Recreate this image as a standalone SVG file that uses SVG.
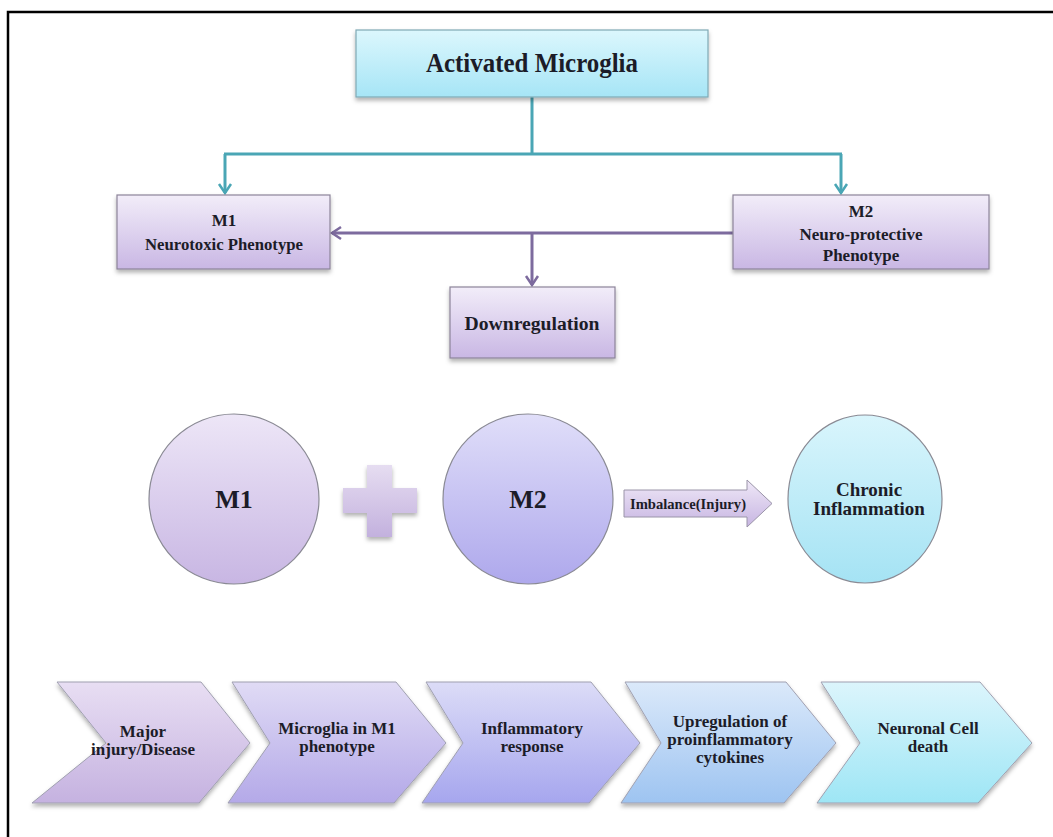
<svg xmlns="http://www.w3.org/2000/svg" width="1053" height="837" viewBox="0 0 1053 837">
<style>
text{font-family:"Liberation Serif","Times New Roman",serif;font-weight:bold;fill:#1c1c28;text-anchor:middle}
.box{stroke:#8c8499;stroke-width:1.2}
.tbox{stroke:#7fa9b5;stroke-width:1.2}
.circ{stroke:#8a8a94;stroke-width:1.2}
.chev{stroke:#a0a0b0;stroke-width:1}
.teal{fill:none;stroke:#4aa6b5;stroke-width:3}
.purp{fill:none;stroke:#7d6b9e;stroke-width:3}
</style>
<defs>
<linearGradient id="gCyan" x1="0" y1="0" x2="0" y2="1"><stop offset="0" stop-color="#dcf7fd"/><stop offset="1" stop-color="#a6e5f6"/></linearGradient>
<linearGradient id="gLav" x1="0" y1="0" x2="0" y2="1"><stop offset="0" stop-color="#f2edf9"/><stop offset="1" stop-color="#c9b7e4"/></linearGradient>
<linearGradient id="gC1" x1="0" y1="0" x2="0" y2="1"><stop offset="0" stop-color="#ede6f7"/><stop offset="1" stop-color="#c8b6e3"/></linearGradient>
<linearGradient id="gC2" x1="0" y1="0" x2="0" y2="1"><stop offset="0" stop-color="#e0def9"/><stop offset="1" stop-color="#aea8ec"/></linearGradient>
<linearGradient id="gC3" x1="0" y1="0" x2="0" y2="1"><stop offset="0" stop-color="#d9f5fc"/><stop offset="1" stop-color="#a5e3f4"/></linearGradient>
<linearGradient id="gPlus" x1="0" y1="0" x2="0" y2="1"><stop offset="0" stop-color="#e6ddf1"/><stop offset="1" stop-color="#c3b1de"/></linearGradient>
<linearGradient id="gArr" x1="0" y1="0" x2="0" y2="1"><stop offset="0" stop-color="#efe8f7"/><stop offset="1" stop-color="#c7b5e2"/></linearGradient>
<linearGradient id="k1" x1="0" y1="0" x2="0" y2="1"><stop offset="0" stop-color="#e8def3"/><stop offset="1" stop-color="#c5b2e0"/></linearGradient>
<linearGradient id="k2" x1="0" y1="0" x2="0" y2="1"><stop offset="0" stop-color="#e0dbf5"/><stop offset="1" stop-color="#b4a9e8"/></linearGradient>
<linearGradient id="k3" x1="0" y1="0" x2="0" y2="1"><stop offset="0" stop-color="#dcdcf7"/><stop offset="1" stop-color="#a6a6ee"/></linearGradient>
<linearGradient id="k4" x1="0" y1="0" x2="0" y2="1"><stop offset="0" stop-color="#dbe9fa"/><stop offset="1" stop-color="#9ec4f1"/></linearGradient>
<linearGradient id="k5" x1="0" y1="0" x2="0" y2="1"><stop offset="0" stop-color="#dcf5fc"/><stop offset="1" stop-color="#9ee6f5"/></linearGradient>
<filter id="sh" x="-10%" y="-10%" width="120%" height="130%"><feDropShadow dx="0" dy="3" stdDeviation="2" flood-color="#000" flood-opacity="0.3"/></filter>
<marker id="aT" markerWidth="16" markerHeight="16" refX="12" refY="8" orient="auto" markerUnits="userSpaceOnUse"><path d="M3,2 L12,8 L3,14" fill="none" stroke="#4aa6b5" stroke-width="2.5"/></marker>
<marker id="aP" markerWidth="16" markerHeight="16" refX="12" refY="8" orient="auto" markerUnits="userSpaceOnUse"><path d="M3,2 L12,8 L3,14" fill="none" stroke="#7d6b9e" stroke-width="2.5"/></marker>
</defs>
<rect width="1053" height="837" fill="#fff"/>
<path d="M8,837 L8,12 L1053,12" fill="none" stroke="#000" stroke-width="2.5"/>

<g id="connectors">
<path class="teal" d="M532,97 L532,154 M224,154 L842,154"/>
<path class="teal" d="M225,154 L225,193" marker-end="url(#aT)"/>
<path class="teal" d="M841,154 L841,193" marker-end="url(#aT)"/>
<path class="purp" d="M733,233 L332,233" marker-end="url(#aP)"/>
<path class="purp" d="M532,233 L532,285" marker-end="url(#aP)"/>
</g>

<g id="activated">
<rect class="tbox" x="356" y="30" width="352" height="67" fill="url(#gCyan)" filter="url(#sh)"/>
<text x="532" y="72" font-size="27" textLength="212" lengthAdjust="spacingAndGlyphs">Activated Microglia</text>
</g>
<g id="m1box">
<rect class="box" x="117" y="195" width="213" height="74" fill="url(#gLav)" filter="url(#sh)"/>
<text x="224" y="226" font-size="17">M1</text>
<text x="224" y="250" font-size="17" textLength="158" lengthAdjust="spacingAndGlyphs">Neurotoxic Phenotype</text>
</g>
<g id="m2box">
<rect class="box" x="733" y="195" width="256" height="74" fill="url(#gLav)" filter="url(#sh)"/>
<text x="861" y="217" font-size="17">M2</text>
<text x="861" y="240" font-size="17">Neuro-protective</text>
<text x="861" y="261" font-size="17">Phenotype</text>
</g>
<g id="down">
<rect class="box" x="450" y="287" width="165" height="71" fill="url(#gLav)" filter="url(#sh)"/>
<text x="532" y="330" font-size="18" textLength="135" lengthAdjust="spacingAndGlyphs">Downregulation</text>
</g>

<g id="m1circle">
<circle class="circ" cx="234" cy="499" r="85" fill="url(#gC1)"/>
<text x="234" y="508" font-size="26">M1</text>
</g>
<g id="plus">
<path d="M367,465 H392 V488 H417 V513 H392 V537 H367 V513 H343 V488 H367 Z" fill="url(#gPlus)" filter="url(#sh)"/>
</g>
<g id="m2circle">
<circle class="circ" cx="528" cy="499" r="85" fill="url(#gC2)"/>
<text x="528" y="508" font-size="26">M2</text>
</g>
<g id="imbalance">
<path d="M624,490 H747 V480 L772,503.5 L747,527 V517 H624 Z" fill="url(#gArr)" stroke="#9a94a8" stroke-width="1"/>
<text x="688" y="509" font-size="14.5" textLength="116" lengthAdjust="spacingAndGlyphs">Imbalance(Injury)</text>
</g>
<g id="chronic">
<ellipse class="circ" cx="865" cy="499" rx="77" ry="84" fill="url(#gC3)"/>
<text x="869" y="496" font-size="19">Chronic</text>
<text x="869" y="515" font-size="19">Inflammation</text>
</g>

<g id="step1">
<polygon class="chev" points="57,682 201,682 250,743 199,803 32,803 106,743" fill="url(#k1)" filter="url(#sh)"/>
<text x="143" y="737" font-size="17">Major</text>
<text x="143" y="755" font-size="17">injury/Disease</text>
</g>
<g id="step2">
<polygon class="chev" points="232,682 396,682 446,743 394,803 228,803 270,743" fill="url(#k2)" filter="url(#sh)"/>
<text x="337" y="734" font-size="17">Microglia in M1</text>
<text x="337" y="752" font-size="17">phenotype</text>
</g>
<g id="step3">
<polygon class="chev" points="426,682 591,682 640,743 589,803 422,803 463,743" fill="url(#k3)" filter="url(#sh)"/>
<text x="532" y="734" font-size="17">Inflammatory</text>
<text x="532" y="752" font-size="17">response</text>
</g>
<g id="step4">
<polygon class="chev" points="625,682 786,682 836,743 784,803 621,803 661,743" fill="url(#k4)" filter="url(#sh)"/>
<text x="730" y="727" font-size="17">Upregulation of</text>
<text x="730" y="745" font-size="17">proinflammatory</text>
<text x="730" y="763" font-size="17">cytokines</text>
</g>
<g id="step5">
<polygon class="chev" points="821,682 980,682 1032,743 978,803 817,803 860,743" fill="url(#k5)" filter="url(#sh)"/>
<text x="928" y="734" font-size="17">Neuronal Cell</text>
<text x="928" y="752" font-size="17">death</text>
</g>
</svg>
